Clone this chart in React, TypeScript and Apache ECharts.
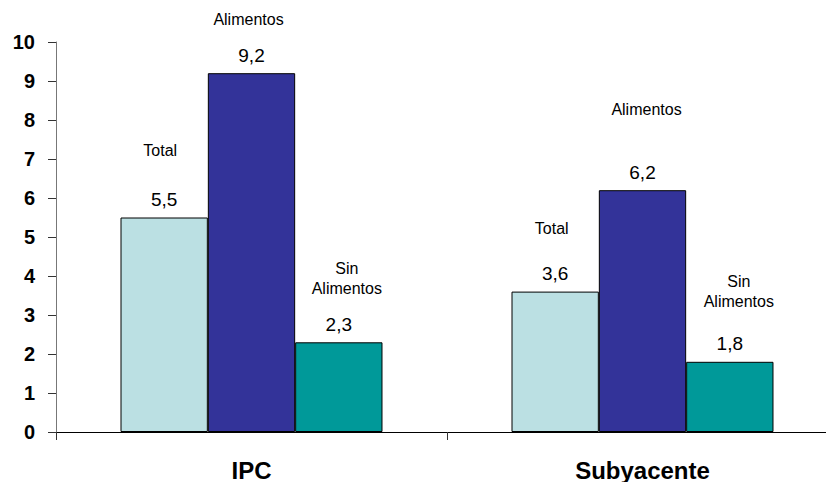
import React, { useEffect, useRef } from "react";
import * as echarts from "echarts";

const categories = ["IPC", "Subyacente"];
const seriesNames = ["Total", "Alimentos", "Sin Alimentos"];
const totalValues = [5.5, 3.6];
const alimentosValues = [9.2, 6.2];
const sinAlimentosValues = [2.3, 1.8];
const yTicks = { min: 0, max: 10, interval: 1 };

// label layout (style only): extra gap between series name and value, horizontal shift of the name
const nameGaps = [
  [29, 25],
  [16, 43],
  [16, 22],
];
const nameShifts = [
  [-4, -3.5],
  [-3, 4],
  [8, 9],
];
const colors = ["#BBE0E3", "#333399", "#009999"];
const FONT = "Arial, 'Liberation Sans', sans-serif";

function fmt(v: number) {
  return v.toFixed(1).replace(".", ",");
}

export default function App() {
  const ref = useRef<HTMLDivElement>(null);
  useEffect(() => {
    if (!ref.current) return;
    const chart = echarts.init(ref.current, null, { renderer: "svg" });
    const allValues = [totalValues, alimentosValues, sinAlimentosValues];
    const series = allValues.map((vals, si) => {
      const nameLines = seriesNames[si].split(" ");
      return {
        name: seriesNames[si],
        type: "bar",
        barGap: "0%",
        barCategoryGap: "33%",
        itemStyle: { color: colors[si], borderColor: "#000", borderWidth: 1 },
        data: vals.map((v, ci) => {
          const dx = nameShifts[si][ci];
          const pad = dx >= 0 ? [0, 0, 0, 2 * dx] : [0, -2 * dx, 0, 0];
          return {
            value: v,
            label: {
              show: true,
              position: "top",
              distance: 8,
              formatter: () =>
                nameLines.map((l) => `{n|${l}}`).join("\n") + `\n{s| }\n{v|${fmt(v)}}`,
              rich: {
                n: { fontSize: 16, lineHeight: 20, color: "#000", fontFamily: FONT, padding: pad },
                s: { fontSize: 1, lineHeight: nameGaps[si][ci], height: nameGaps[si][ci] },
                v: { fontSize: 19, lineHeight: 20, color: "#000", fontFamily: FONT },
              },
            },
          };
        }),
      };
    });
    chart.setOption({
      animation: false,
      grid: { left: 56, right: -12, top: 42, bottom: 50, containLabel: false, outerBoundsMode: "none" },
      xAxis: {
        type: "category",
        data: categories,
        axisLine: { show: true, lineStyle: { color: "#000", width: 1 } },
        axisTick: { show: true, length: 8, lineStyle: { color: "#333" } },
        axisLabel: { fontSize: 24, fontWeight: "bold", color: "#000", fontFamily: FONT, margin: 26 },
        splitLine: { show: false },
      },
      yAxis: {
        type: "value",
        min: yTicks.min,
        max: yTicks.max,
        interval: yTicks.interval,
        axisLine: { show: true, lineStyle: { color: "#777", width: 1 } },
        axisTick: { show: true, length: 8, lineStyle: { color: "#333" } },
        axisLabel: { fontSize: 20, fontWeight: "bold", color: "#000", fontFamily: FONT, margin: 21 },
        splitLine: { show: false },
      },
      series,
    });
    return () => chart.dispose();
  }, []);
  return (
    <div
      ref={ref}
      style={{ position: "fixed", left: 0, top: 0, width: 826, height: 482, background: "#fff" }}
    />
  );
}
